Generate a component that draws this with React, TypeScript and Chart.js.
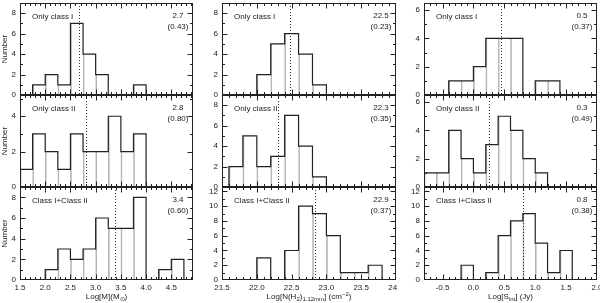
import React, { useEffect, useRef } from "react";
import { Chart, registerables } from "chart.js";

Chart.register(...registerables);

// ---------------- DATA ----------------
// Column 1: Log[M] (Msun), bins of 0.25 starting at 1.5
const massBinStart = 1.5;
const massBinWidth = 0.25;
const massClassI = [0, 1, 2, 1, 7, 4, 2, 0, 0, 1];
const massClassII = [1, 3, 2, 1, 3, 2, 2, 4, 2, 3];
const massAll = [0, 0, 1, 3, 2, 3, 6, 5, 5, 8, 0, 1, 2];
const massMeans = [2.67, 2.81, 3.39];
const massMeanLabels = ["2.7", "2.8", "3.4"];
const massSdLabels = ["(0.43)", "(0.80)", "(0.60)"];

// Column 2: Log[N(H2)] (cm^-2), bins of 0.2 starting at 21.6
const nh2BinStart = 21.6;
const nh2BinWidth = 0.2;
const nh2ClassI = [0, 0, 2, 5, 6, 4, 1];
const nh2ClassII = [2, 5, 2, 3, 7, 4, 1];
const nh2All = [0, 0, 3, 0, 4, 10, 9, 6, 1, 1, 2];
const nh2Means = [22.47, 22.3, 22.84];
const nh2MeanLabels = ["22.5", "22.3", "22.9"];
const nh2SdLabels = ["(0.23)", "(0.35)", "(0.37)"];

// Column 3: Log[S_int] (Jy), bins of 0.2 starting at -0.8
const fluxBinStart = -0.8;
const fluxBinWidth = 0.2;
const fluxClassI = [0, 0, 1, 1, 2, 4, 4, 4, 0, 1, 1];
const fluxClassII = [1, 1, 4, 2, 1, 3, 5, 4, 2, 1];
const fluxAll = [0, 0, 0, 2, 0, 1, 6, 8, 9, 5, 1, 4];
const fluxMeans = [0.44, 0.26, 0.8];
const fluxMeanLabels = ["0.5", "0.3", "0.8"];
const fluxSdLabels = ["(0.37)", "(0.49)", "(0.38)"];

const sampleNames = ["Only class I", "Only class II", "Class I+Class II"];

// axis ranges
const xRanges = [
  [1.5, 4.93],
  [21.5, 24.0],
  [-0.8, 2.0],
];
const yMaxByPanel = [
  [9, 5.2, 9],
  [9, 9, 12.6],
  [6.5, 6.5, 12.6],
];

// ---------------- LAYOUT ----------------
const FONT = "'Liberation Sans', Arial, Helvetica, sans-serif";
const INK = "#222";
const cols = [
  { left: 0, right: 197, plotL: 20, plotR: 193 },
  { left: 197, right: 397, plotL: 222, plotR: 396 },
  { left: 397, right: 600, plotL: 424, plotR: 597 },
];
const rows = [
  { plotT: 3, plotB: 95 },
  { plotT: 95, plotB: 187 },
  { plotT: 187, plotB: 280 },
];

type PanelDef = {
  col: number;
  row: number;
  start: number;
  width: number;
  counts: number[];
  mean: number;
  meanLabel: string;
  sdLabel: string;
};

const colData = [
  { start: massBinStart, width: massBinWidth, sets: [massClassI, massClassII, massAll], means: massMeans, ml: massMeanLabels, sl: massSdLabels },
  { start: nh2BinStart, width: nh2BinWidth, sets: [nh2ClassI, nh2ClassII, nh2All], means: nh2Means, ml: nh2MeanLabels, sl: nh2SdLabels },
  { start: fluxBinStart, width: fluxBinWidth, sets: [fluxClassI, fluxClassII, fluxAll], means: fluxMeans, ml: fluxMeanLabels, sl: fluxSdLabels },
];

const panels: PanelDef[] = [];
colData.forEach((cd, ci) => {
  cd.sets.forEach((counts, ri) => {
    panels.push({
      col: ci,
      row: ri,
      start: cd.start,
      width: cd.width,
      counts,
      mean: cd.means[ri],
      meanLabel: cd.ml[ri],
      sdLabel: cd.sl[ri],
    });
  });
});

function drawAxisTicks(ctx: CanvasRenderingContext2D, chart: any) {
  const ca = chart.chartArea;
  const xs = chart.scales.x;
  const ys = chart.scales.y;
  const L = Math.round(ca.left) + 0.5;
  const R = Math.round(ca.right) - 0.5;
  const T = Math.round(ca.top) + 0.5;
  const B = Math.round(ca.bottom) - 0.5;
  ctx.save();
  ctx.setLineDash([]);
  ctx.strokeStyle = INK;
  ctx.lineWidth = 1;
  ctx.strokeRect(L, T, R - L, B - T);

  const ticksFor = (min: number, max: number, major: number, minor: number) => {
    const out: { v: number; major: boolean }[] = [];
    const k0 = Math.ceil(min / minor - 1e-6);
    const k1 = Math.floor(max / minor + 1e-6);
    for (let k = k0; k <= k1; k++) {
      const v = k * minor;
      const q = v / major;
      out.push({ v, major: Math.abs(q - Math.round(q)) < 1e-6 });
    }
    return out;
  };
  ctx.beginPath();
  ticksFor(xs.min, xs.max, 0.5, 0.1).forEach((t) => {
    const px = Math.round(xs.getPixelForValue(t.v)) + 0.5;
    if (px <= L + 0.5 || px >= R - 0.5) return;
    const len = t.major ? 5 : 2.5;
    ctx.moveTo(px, B);
    ctx.lineTo(px, B - len);
    ctx.moveTo(px, T);
    ctx.lineTo(px, T + len);
  });
  ticksFor(ys.min, ys.max, 2, 1).forEach((t) => {
    const py = Math.round(ys.getPixelForValue(t.v)) + 0.5;
    if (py <= T + 0.5 || py >= B - 0.5) return;
    const len = t.major ? 5 : 2.5;
    ctx.moveTo(L, py);
    ctx.lineTo(L + len, py);
    ctx.moveTo(R, py);
    ctx.lineTo(R - len, py);
  });
  ctx.stroke();
  ctx.restore();
}

function HistPanel({ p }: { p: PanelDef }) {
  const ref = useRef<HTMLCanvasElement>(null);
  const c = cols[p.col];
  const r = rows[p.row];
  const isBottom = p.row === 2;
  const top = Math.max(0, r.plotT - 8);
  const bottom = isBottom ? 303 : r.plotB + 8;
  const w = c.right - c.left;
  const h = bottom - top;

  useEffect(() => {
    if (!ref.current) return;
    const barData = p.counts.map((v, i) => ({ x: p.start + (i + 0.5) * p.width, y: v }));
    const outline: { x: number; y: number }[] = [{ x: p.start, y: 0 }];
    p.counts.forEach((v, i) => {
      outline.push({ x: p.start + i * p.width, y: v });
      outline.push({ x: p.start + (i + 1) * p.width, y: v });
    });
    outline.push({ x: p.start + p.counts.length * p.width, y: 0 });

    const deco = {
      id: "deco" + p.col + p.row,
      afterDatasetsDraw(chart: any) {
        const ctx: CanvasRenderingContext2D = chart.ctx;
        const ca = chart.chartArea;
        const xs = chart.scales.x;
        // mean line
        ctx.save();
        ctx.strokeStyle = "#333";
        ctx.lineWidth = 1;
        ctx.setLineDash([1, 2]);
        const mx = Math.round(xs.getPixelForValue(p.mean)) + 0.5;
        ctx.beginPath();
        ctx.moveTo(mx, ca.top);
        ctx.lineTo(mx, ca.bottom);
        ctx.stroke();
        ctx.restore();
        drawAxisTicks(ctx, chart);
        // text
        ctx.save();
        ctx.fillStyle = INK;
        ctx.font = "8px " + FONT;
        ctx.textBaseline = "middle";
        ctx.textAlign = "left";
        ctx.fillText(sampleNames[p.row], ca.left + 12, ca.top + 14);
        ctx.textAlign = "center";
        const vx = ca.right - 15;
        ctx.fillText(p.meanLabel, vx, ca.top + 13);
        ctx.fillText(p.sdLabel, vx, ca.top + 24);
        ctx.restore();
      },
    };

    const chart = new Chart(ref.current, {
      type: "bar",
      data: {
        datasets: [
          {
            type: "line",
            data: outline,
            borderColor: INK,
            borderWidth: 1.2,
            pointRadius: 0,
            tension: 0,
            fill: false,
            order: 1,
          } as any,
          {
            type: "bar",
            data: barData,
            backgroundColor: "rgba(255,255,255,0)",
            borderColor: "#b5b5b5",
            borderWidth: { left: 1, right: 0, top: 0, bottom: 0 },
            borderSkipped: false,
            barPercentage: 1,
            categoryPercentage: 1,
            order: 2,
          } as any,
        ],
      },
      options: {
        responsive: false,
        maintainAspectRatio: false,
        animation: false,
        events: [],
        layout: {
          padding: { top: r.plotT - top, right: c.right - c.plotR, left: 0, bottom: 0 },
        },
        plugins: { legend: { display: false }, tooltip: { enabled: false } },
        scales: {
          x: {
            type: "linear",
            min: xRanges[p.col][0],
            max: xRanges[p.col][1],
            offset: false,
            grid: { display: false, drawTicks: false, tickLength: 0 },
            border: { display: false },
            ticks: {
              display: isBottom,
              stepSize: 0.5,
              includeBounds: false,
              autoSkip: false,
              maxRotation: 0,
              padding: 3,
              color: INK,
              font: { family: FONT, size: 8 },
              callback: (v: any) => Number(v).toFixed(1),
            },
            afterFit: (s: any) => {
              s.height = bottom - r.plotB;
              s.paddingLeft = 0;
              s.paddingRight = 0;
            },
          },
          y: {
            type: "linear",
            min: 0,
            max: yMaxByPanel[p.col][p.row],
            grid: { display: false, drawTicks: false, tickLength: 0 },
            border: { display: false },
            ticks: {
              stepSize: 2,
              includeBounds: false,
              autoSkip: false,
              padding: 4,
              color: INK,
              font: { family: FONT, size: 8 },
              callback: (v: any) => String(v),
            },
            title: {
              display: p.col === 0,
              text: "Number",
              color: INK,
              font: { family: FONT, size: 8 },
              padding: 0,
            },
            afterFit: (s: any) => {
              s.width = c.plotL - c.left;
              s.paddingTop = 0;
              s.paddingBottom = 0;
            },
          },
        },
      } as any,
      plugins: [deco],
    });
    return () => chart.destroy();
  }, []);

  return (
    <canvas
      ref={ref}
      width={w}
      height={h}
      style={{ position: "absolute", left: c.left, top, width: w, height: h }}
    />
  );
}

const titleStyle = (center: number): React.CSSProperties => ({
  position: "absolute",
  left: center - 90,
  width: 180,
  top: 292,
  textAlign: "center",
  fontFamily: FONT,
  fontSize: 8,
  lineHeight: "10px",
  color: INK,
  whiteSpace: "nowrap",
});
const subStyle: React.CSSProperties = { fontSize: 6, verticalAlign: "-2px", lineHeight: 0 };
const supStyle: React.CSSProperties = { fontSize: 6, verticalAlign: "3px", lineHeight: 0 };

export default function App() {
  return (
    <div
      style={{
        position: "absolute",
        left: 0,
        top: 0,
        width: 600,
        height: 303,
        background: "#fff",
        overflow: "hidden",
      }}
    >
      {panels.map((p) => (
        <HistPanel key={p.col + "-" + p.row} p={p} />
      ))}
      <div style={titleStyle((cols[0].plotL + cols[0].plotR) / 2)}>
        Log[M](M<span style={subStyle}>⊙</span>)
      </div>
      <div style={titleStyle((cols[1].plotL + cols[1].plotR) / 2)}>
        Log[N(H<span style={subStyle}>2</span>)<span style={subStyle}>1.12mm</span>] (cm<span style={supStyle}>−2</span>)
      </div>
      <div style={titleStyle((cols[2].plotL + cols[2].plotR) / 2)}>
        Log[S<span style={subStyle}>int</span>] (Jy)
      </div>
    </div>
  );
}
